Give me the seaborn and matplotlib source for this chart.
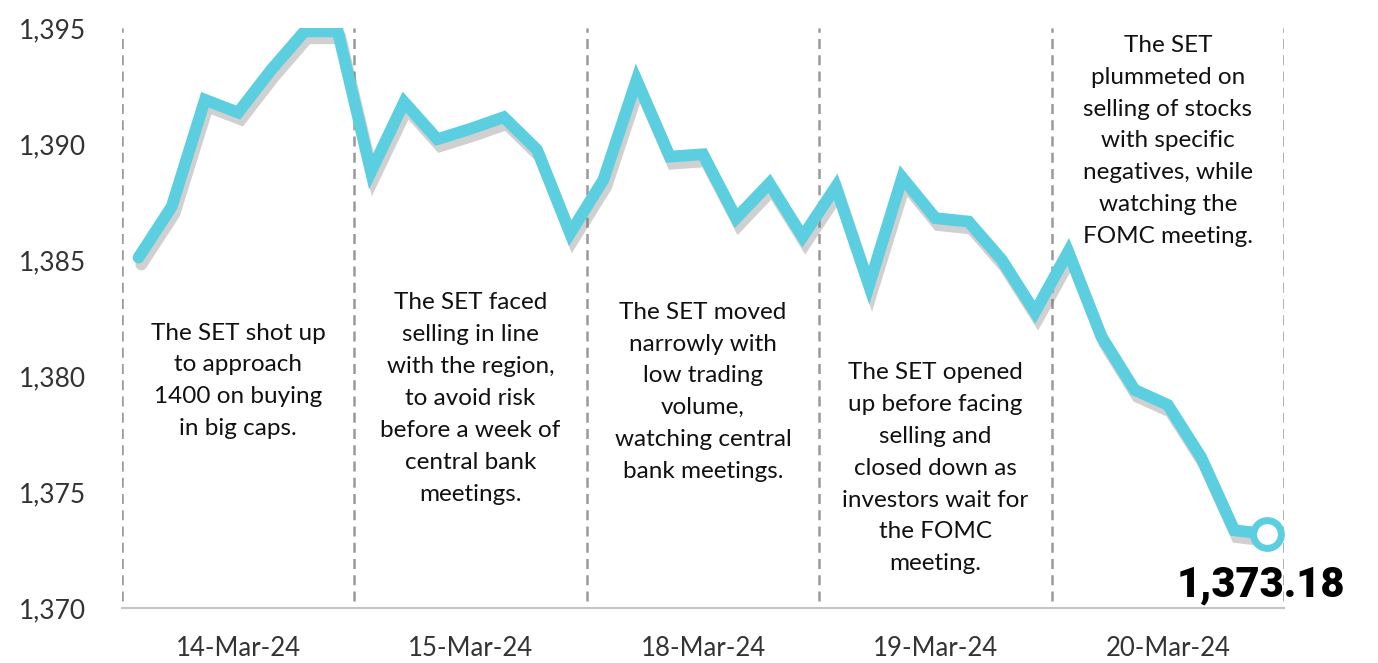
import numpy as np
import pandas as pd
import seaborn as sns
import matplotlib.pyplot as plt
import matplotlib.patheffects as pe

# SET index, 7 intraday readings per session
days = ["14-Mar-24", "15-Mar-24", "18-Mar-24", "19-Mar-24", "20-Mar-24"]
mar14 = [1385.1, 1387.3, 1391.9, 1391.35, 1393.2, 1394.85, 1394.85]
mar15 = [1388.8, 1391.8, 1390.2, 1390.65, 1391.15, 1389.75, 1386.15]
mar18 = [1388.45, 1392.75, 1389.45, 1389.55, 1386.8, 1388.3, 1386.0]
mar19 = [1388.15, 1383.9, 1388.55, 1386.8, 1386.65, 1385.0, 1382.75]
mar20 = [1385.35, 1381.7, 1379.4, 1378.75, 1376.5, 1373.35, 1373.18]
notes = [
    "The SET shot up\nto approach\n1400 on buying\nin big caps.",
    "The SET faced\nselling in line\nwith the region,\nto avoid risk\nbefore a week of\ncentral bank\nmeetings.",
    "The SET moved\nnarrowly with\nlow trading\nvolume,\nwatching central\nbank meetings.",
    "The SET opened\nup before facing\nselling and\nclosed down as\ninvestors wait for\nthe FOMC\nmeeting.",
    "The SET\nplummeted on\nselling of stocks\nwith specific\nnegatives, while\nwatching the\nFOMC meeting.",
]
note_top = [1382.3, 1383.6, 1383.2, 1380.6, 1394.7]
yticks = [1370, 1375, 1380, 1385, 1390, 1395]

values = mar14 + mar15 + mar18 + mar19 + mar20
df = pd.DataFrame({"idx": np.arange(len(values)), "set": values})
n = 7

sns.set_style("white")
plt.rcParams["font.family"] = ["Lato", "DejaVu Sans"]

fig = plt.figure(figsize=(13.78, 6.63), dpi=100)
ax = fig.add_axes([0.0885, 0.083, 0.8433, 0.875])

line_col = "#5BCFDF"
sns.lineplot(data=df, x="idx", y="set", ax=ax, color=line_col, linewidth=8.5,
             solid_joinstyle="miter", solid_capstyle="round",
             path_effects=[pe.SimpleLineShadow(offset=(2, -5), shadow_color="#666666", alpha=0.3),
                           pe.Normal()])
ax.plot(df["idx"].iloc[-1], df["set"].iloc[-1], "o", ms=20, mfc="white", mec=line_col,
        mew=5, zorder=5, clip_on=False)
ax.text(df["idx"].iloc[-1] - 0.2, 1371.0, f"{values[-1]:,.2f}", ha="center", va="center",
        fontsize=30, fontweight="heavy", family=["Roboto", "DejaVu Sans"], color="black")

# session separators
for b in range(len(days) + 1):
    ax.axvline(b * n - 0.5, ymin=0.012, ymax=1, color="#999999", lw=1.8, ls=(0, (4, 2.5)), zorder=0)

for i, (txt, top) in enumerate(zip(notes, note_top)):
    ax.text(i * n + 3, top, txt, ha="center", va="top", fontsize=17.5, linespacing=1.64,
            color="#111111")

ax.set_xlim(-0.5, len(values) - 0.5)
ax.set_ylim(1370, 1395)
ax.set_yticks(yticks)
ax.set_yticklabels([f"{v:,}" for v in yticks])
ax.set_xticks([i * n + 3 for i in range(len(days))])
ax.set_xticklabels(days)
ax.set_xticks([b * n - 0.5 for b in range(len(days) + 1)], minor=True)
ax.tick_params(axis="y", length=0, pad=26, labelsize=19, labelcolor="#333333")
ax.tick_params(axis="x", which="major", length=0, pad=20, labelsize=18.5, labelcolor="#333333")
ax.tick_params(axis="x", which="minor", direction="in", length=6, width=1.2, color="#bbbbbb")
ax.set_xlabel("")
ax.set_ylabel("")
for s in ["top", "right", "left"]:
    ax.spines[s].set_visible(False)
ax.spines["bottom"].set_color("#c4c4c4")
ax.spines["bottom"].set_linewidth(1.5)

fig.savefig("out.png", dpi=100)
